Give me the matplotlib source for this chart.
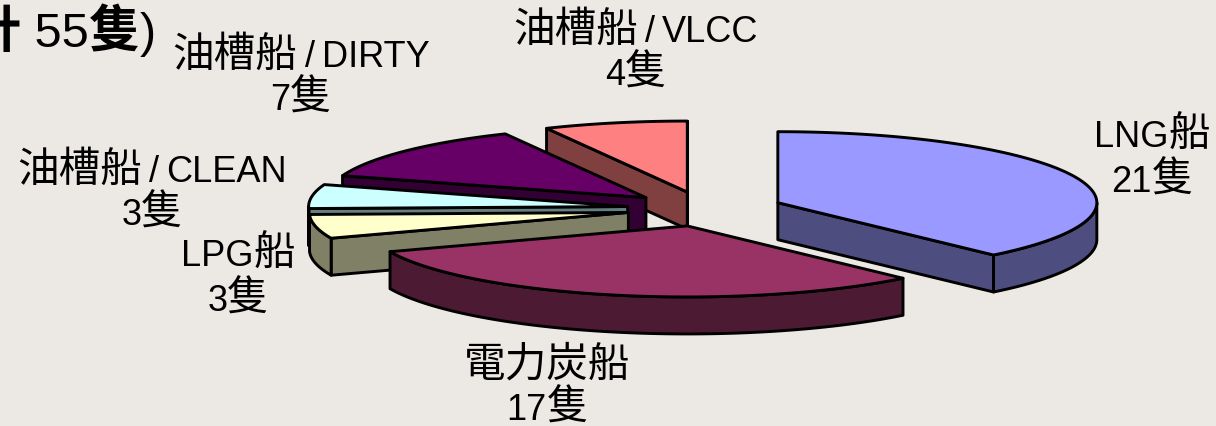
import numpy as np
import matplotlib
matplotlib.use('Agg')
from matplotlib import pyplot as plt
from matplotlib.patches import Polygon

# Dados do grafico
categorias = ['油槽船/VLCC', '油槽船/DIRTY', '油槽船/CLEAN', 'LPG船', '電力炭船', 'LNG船']
valores_rotulo = [4, 7, 3, 3, 17, 21]
fatias = ['LNG', '電力炭', 'LPG', 'CLEAN', 'DIRTY', 'VLCC']
valores = [21, 17, 3, 3, 7, 4]
unidade = '隻'
titulo = '計 55隻)'

# Cores (topo, parede)
cores_topo = ['#9999FF', '#993366', '#FFFFCC', '#CCFFFF', '#660066', '#FF8080']
cores_parede = ['#4D4D80', '#4D1A33', '#808066', '#668080', '#330033', '#804040']

# Posicao dos rotulos (centro x, base da linha 1, base da linha 2)
pos_rotulos = [(636, 42, 85), (301, 67, 110), (152, 182, 225),
               (238, 266, 311), (547, 377, 420), (1152, 147, 192)]

# Geometria da pizza 3D
cx, cy = 705, 210
a, b = 319, 71
altura = 37
explode = 0.245
fundo = '#ECE8E4'

plt.rcParams['font.family'] = ['Liberation Sans', 'Noto Sans CJK TC']

fig = plt.figure(figsize=(12.16, 4.27), dpi=100, facecolor=fundo)
ax = fig.add_axes([0, 0, 1, 1])
ax.set_xlim(0, 1216)
ax.set_ylim(427, 0)
ax.axis('off')
rend = fig.canvas.get_renderer()


def borda(ap, ang):
    # ponto da elipse, angulo em graus no sentido horario a partir do topo
    t = np.radians(ang)
    return np.column_stack([ap[0] + a * np.sin(t), ap[1] - b * np.cos(t)])


def face(pts, cor, z):
    ax.add_patch(Polygon(pts, closed=True, facecolor=cor, edgecolor='black',
                         linewidth=2.1, joinstyle='round', zorder=z))


def eh_cjk(c):
    return ord(c) > 0x2E80


def pedacos(s):
    # separa o texto em trechos CJK e latinos (os tamanhos sao diferentes)
    saida = []
    for c in s:
        if c == '/':
            saida.append(c)
            saida.append('')
        elif saida and saida[-1] != '/' and (not saida[-1] or eh_cjk(saida[-1][0]) == eh_cjk(c)):
            saida[-1] += c
        else:
            saida.append(c)
    return [p for p in saida if p]


def texto(s, x, y, tam_cjk, tam_lat, alinha='center', peso='normal', folga=7):
    objs = []
    larg = 0
    for p in pedacos(s):
        cjk = eh_cjk(p[0])
        t = ax.text(0, y, p, ha='left', va='baseline', color='black', zorder=20,
                    fontsize=tam_cjk if cjk else tam_lat, fontweight=peso if cjk else 'normal',
                    family=['Noto Sans CJK TC'] if cjk else ['Liberation Sans'], clip_on=False)
        w = t.get_window_extent(rend).width
        if p == '/':
            w += 2 * folga
        objs.append((t, p, w))
        larg += w
    x0 = x - larg / 2 if alinha == 'center' else x - larg
    for t, p, w in objs:
        t.set_x(x0 + (folga if p == '/' else 0))
        x0 += w


limites = np.cumsum([0] + valores) / sum(valores) * 360
desce = np.array([0, altura])

# desenha de tras para frente
ordem = [5, 4, 3, 2, 1, 0]
for z, i in enumerate(ordem):
    ini, fim = limites[i], limites[i + 1]
    meio = np.radians((ini + fim) / 2)
    ap = (cx + explode * a * np.sin(meio), cy - explode * b * np.cos(meio))
    apice = np.array([ap])
    parede = cores_parede[i]

    # paredes radiais visiveis
    if np.sin(np.radians(ini)) < -1e-6:
        p = borda(ap, [ini])
        face(np.vstack([apice, p, p + desce, apice + desce]), parede, z)
    if np.sin(np.radians(fim)) > 1e-6 or i == 5:
        p = borda(ap, [fim])
        face(np.vstack([apice, p, p + desce, apice + desce]), parede, z)

    # parede externa (metade da frente)
    v_ini, v_fim = max(ini, 90), min(fim, 270)
    if v_fim > v_ini:
        arco = borda(ap, np.linspace(v_ini, v_fim, 80))
        face(np.vstack([arco, arco[::-1] + desce]), parede, z)

    # topo
    arco = borda(ap, np.linspace(ini, fim, 120))
    face(np.vstack([apice, arco]), cores_topo[i], z)

# Rotulos
for nome, v, (x, y1, y2) in zip(categorias, valores_rotulo, pos_rotulos):
    texto(nome, x, y1, 30, 26)
    texto(f'{v}{unidade}', x, y2, 30, 26, folga=0)

texto(titulo, 156, 47, 37, 35, alinha='right', peso='bold')

fig.savefig('out.png', dpi=100, facecolor=fundo)
